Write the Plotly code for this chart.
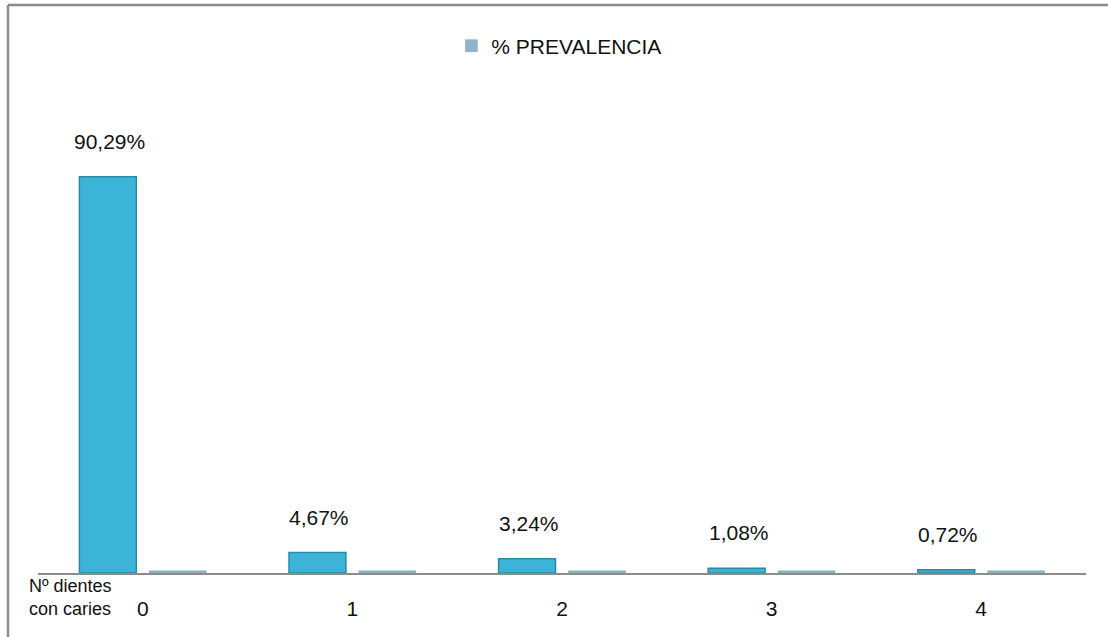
import plotly.graph_objects as go

categorias = ["0", "1", "2", "3", "4"]
prevalencia = [90.29, 4.67, 3.24, 1.08, 0.72]
etiquetas = ["90,29%", "4,67%", "3,24%", "1,08%", "0,72%"]
serie_base = [0.5, 0.5, 0.5, 0.5, 0.5]

FONT = "Liberation Sans"

fig = go.Figure()
fig.add_trace(go.Bar(
    x=categorias, y=prevalencia, showlegend=False,
    marker=dict(color="#3bb4d8", line=dict(color="#2a8aa5", width=1.5)),
    hoverinfo="skip",
))
fig.add_trace(go.Bar(
    x=categorias, y=serie_base, name="% PREVALENCIA",
    marker=dict(color="#8fb6c8", line=dict(color="#7aa3b6", width=0.5)),
    hoverinfo="skip",
))

annotations = []
for c, v, t in zip(categorias, prevalencia, etiquetas):
    annotations.append(dict(
        x=c, y=v, text=t, showarrow=False, xref="x", yref="y",
        xshift=-33, yshift=22, yanchor="bottom",
        font=dict(family=FONT, size=21, color="#111"),
    ))
annotations.append(dict(
    x=(27 - 38) / 1048, y=(573 - 574) / 439, xref="paper", yref="paper",
    xanchor="left", yanchor="top", align="left", showarrow=False,
    text="Nº dientes<br>con caries",
    font=dict(family=FONT, size=18, color="#111"),
))

shapes = [
    dict(type="line", xref="paper", yref="paper",
         x0=(8 - 38) / 1048, x1=(8 - 38) / 1048, y0=(573 - 640) / 439, y1=(573 - 5) / 439,
         line=dict(color="#8c8c8c", width=2.5)),
    dict(type="line", xref="paper", yref="paper",
         x0=(8 - 38) / 1048, x1=(1110 - 38) / 1048, y0=(573 - 5) / 439, y1=(573 - 5) / 439,
         line=dict(color="#8c8c8c", width=2.5)),
]

fig.update_layout(
    width=1108, height=637,
    margin=dict(l=38, r=22, t=134, b=64),
    paper_bgcolor="white", plot_bgcolor="white",
    barmode="group", bargap=0.333, bargroupgap=0.186,
    font=dict(family=FONT, size=20, color="#111"),
    legend=dict(orientation="h", x=0.497, xanchor="center", y=(573 - 46) / 439, yanchor="middle",
                font=dict(family=FONT, size=21, color="#111"), itemwidth=30),
    xaxis=dict(showline=True, linecolor="#8c8c8c", linewidth=2, ticks="", showgrid=False,
               ticklabelstandoff=16,
               tickfont=dict(family=FONT, size=21, color="#111"), fixedrange=True),
    yaxis=dict(range=[0, 100], visible=False, showgrid=False, fixedrange=True),
    annotations=annotations, shapes=shapes,
)

fig.write_html("out.html")
